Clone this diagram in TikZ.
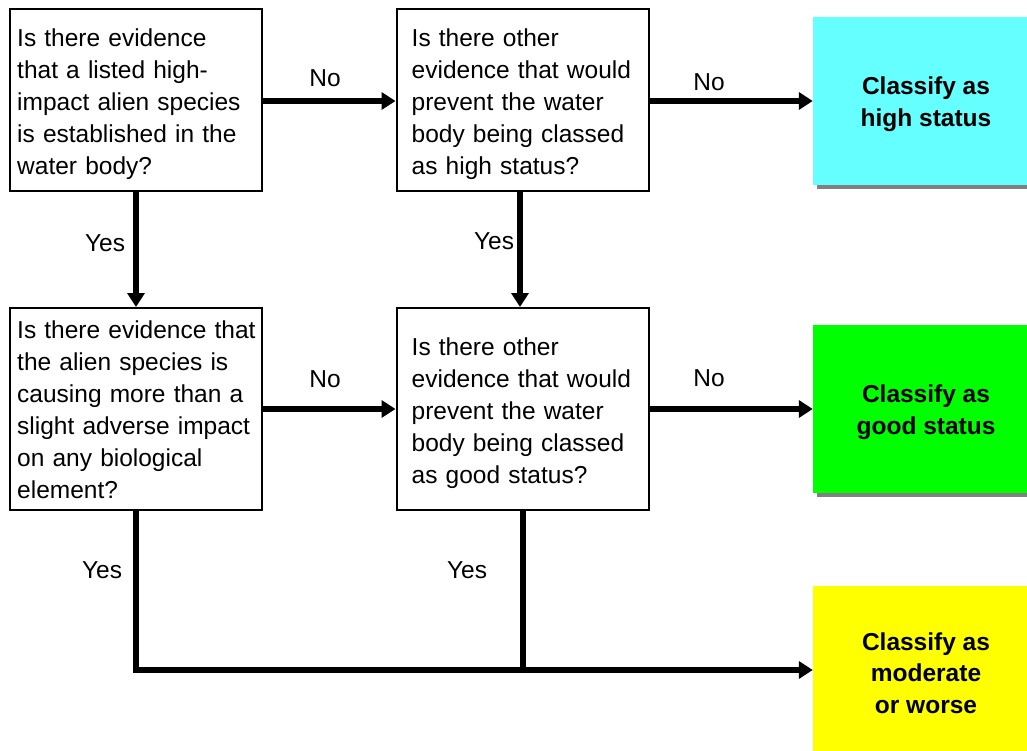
\documentclass[tikz,border=0pt]{standalone}
\usepackage{fontspec}
\setmainfont{Liberation Sans}
\usetikzlibrary{arrows.meta,shadows}
\definecolor{hicyan}{HTML}{66FFFF}
\definecolor{higreen}{HTML}{00FF00}
\definecolor{hiyellow}{HTML}{FFFF00}
\definecolor{shadowgray}{HTML}{808080}
\tikzset{
  qbox/.style={draw=black, line width=2pt, rectangle, minimum width=252pt,
    minimum height=182pt, inner sep=0pt},
  qtext/.style={anchor=west, text width=250pt, align=left, inner sep=0pt,
    font=\fontsize{24.5}{32}\selectfont},
  resbox/.style={rectangle, minimum width=214pt, minimum height=168pt, inner sep=0pt,
    general shadow={fill=shadowgray, shadow xshift=4pt, shadow yshift=-4pt}},
  rtext/.style={align=center, inner sep=0pt,
    font=\fontsize{24.5}{31.5}\selectfont\bfseries},
  lbl/.style={font=\fontsize{24.5}{32}\selectfont, inner sep=0pt},
  flow/.style={line width=6pt, -{Triangle[length=14pt,width=17pt]}},
  plain/.style={line width=6pt}
}
\begin{document}
\begin{tikzpicture}[x=1pt,y=-1pt]
\useasboundingbox[fill=white] (0,0) rectangle (1027,751);
% question boxes
\node[qbox] (A) at (136,100) {};
\node[qbox] (B) at (522.5,100) {};
\node[qbox, minimum height=202pt] (C) at (136,409) {};
\node[qbox, minimum height=202pt] (D) at (522.5,409) {};
\node[qtext] (At) at ([xshift=8pt,yshift=-4pt]A.west) {Is there evidence\\that a listed high-\\impact alien species\\is established in the\\water body?};
\node[qtext] (Bt) at ([xshift=16pt,yshift=-4pt]B.west) {Is there other\\evidence that would\\prevent the water\\body being classed\\as high status?};
\node[qtext] (Ct) at ([xshift=8pt,yshift=-1pt]C.west) {Is there evidence that\\the alien species is\\causing more than a\\slight adverse impact\\on any biological\\element?};
\node[qtext] (Dt) at ([xshift=16pt,yshift=-4pt]D.west) {Is there other\\evidence that would\\prevent the water\\body being classed\\as good status?};
% result boxes
\node[resbox, fill=hicyan] (H) at (920,101) {};
\node[resbox, fill=higreen] (G) at (920,409) {};
\node[resbox, fill=hiyellow] (M) at (920,670) {};
\node[rtext] (Ht) at ([xshift=6pt,yshift=-3pt]H.center) {Classify as\\high status};
\node[rtext] (Gt) at ([xshift=6pt,yshift=-3pt]G.center) {Classify as\\good status};
\node[rtext] (Mt) at ([xshift=6pt,yshift=-3pt]M.center) {Classify as\\moderate\\or worse};
% connectors
\coordinate (J) at (D.south |- M.west);
\draw[flow] (A.east |- 0,101) -- (B.west |- 0,101);
\draw[flow] (B.east |- 0,101) -- (H.west);
\draw[flow] (A.south) -- (C.north);
\draw[flow] ([xshift=-2.5pt]B.south) -- ([xshift=-2.5pt]D.north);
\draw[flow] (C.east) -- (D.west);
\draw[flow] (D.east) -- (G.west);
\draw[flow] (C.south) |- (M.west);
\draw[plain] (D.south) -- (J);
% labels
\node[lbl] (n1) at (325,78) {No};
\node[lbl] (n2) at (709,82) {No};
\node[lbl] (n3) at (325,379) {No};
\node[lbl] (n4) at (709,378) {No};
\node[lbl] (y1) at (105,243) {Yes};
\node[lbl] (y2) at (494,241) {Yes};
\node[lbl] (y3) at (102,570) {Yes};
\node[lbl] (y4) at (467,570) {Yes};
\end{tikzpicture}
\end{document}
